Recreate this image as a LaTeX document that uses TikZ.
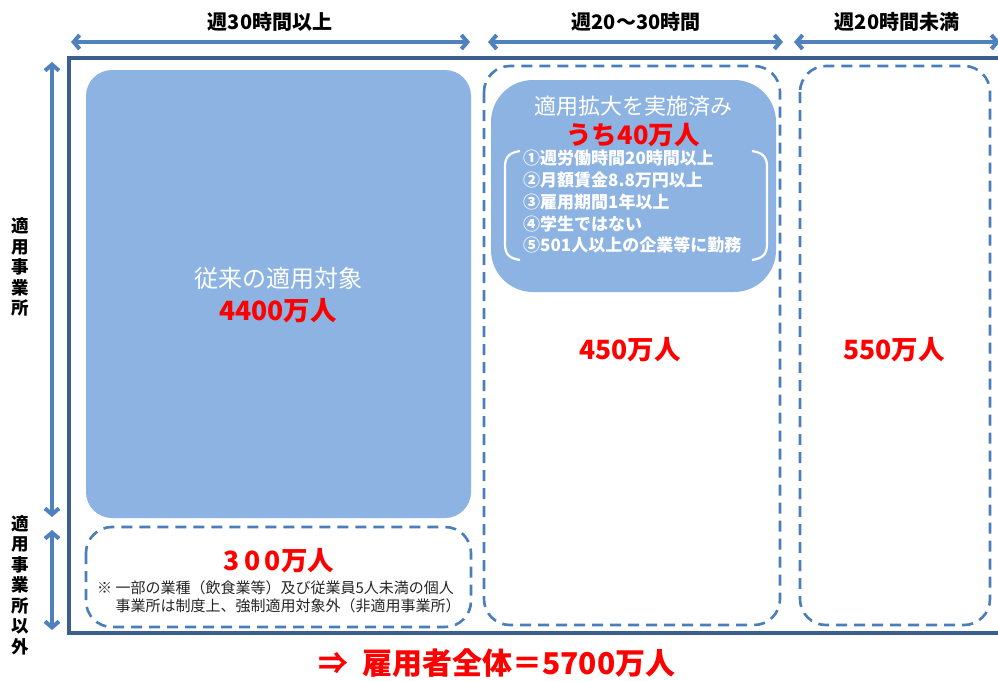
\documentclass[tikz,border=0pt]{standalone}
\usepackage{fontspec}
\setmainfont{Noto Sans CJK JP}
\usetikzlibrary{arrows.meta}
\definecolor{arr}{HTML}{4F81BD}
\definecolor{frm}{HTML}{3B5E8C}
\definecolor{fillb}{HTML}{8DB3E2}
\definecolor{dsh}{HTML}{4A7EBB}
\definecolor{redt}{HTML}{FF0000}
\tikzset{
  dimarrow/.style={arr, line width=4pt, {Straight Barb[length=6pt,width=14pt]}-{Straight Barb[length=6pt,width=14pt]}},
  dbox/.style={dsh, line width=2.6pt, dash pattern=on 11pt off 7pt, rounded corners=26pt},
  hdr/.style={font=\bfseries\fontsize{20}{22}\selectfont, text=black},
  vlab/.style={font=\bfseries\fontsize{17.5}{20.5}\selectfont, text=black, align=center, inner sep=0pt},
  big/.style={font=\bfseries\fontsize{26.5}{30}\selectfont, text=redt},
  wht/.style={font=\fontsize{24}{28}\selectfont, text=white}
}
\begin{document}
\begin{tikzpicture}[x=1pt,y=-1pt]
\useasboundingbox (0,0) rectangle (998,680);
\fill[white] (0,0) rectangle (998,680);
% top headers
\node[hdr] (h1) at (270,22) {週30時間以上};
\node[hdr] (h2) at (636,22) {週20～30時間};
\node[hdr] (h3) at (897,22) {週20時間未満};
\coordinate (a1l) at (71,42); \coordinate (a1r) at (470,42);
\coordinate (a2l) at (488,42); \coordinate (a2r) at (783,42);
\coordinate (a3l) at (794,42); \coordinate (a3r) at (1000,42);
\draw[dimarrow] (a1l) -- (a1r);
\draw[dimarrow] (a2l) -- (a2r);
\draw[dimarrow] (a3l) -- (a3r);
% left arrows
\coordinate (v1t) at (52,62); \coordinate (v1b) at (52,517);
\coordinate (v2t) at (52,530); \coordinate (v2b) at (52,630);
\draw[dimarrow] (v1t) -- (v1b);
\draw[dimarrow] (v2t) -- (v2b);
\node[vlab] (l1) at (20,267) {適\\用\\事\\業\\所};
\node[vlab] (l2) at (20,585) {適\\用\\事\\業\\所\\以\\外};
% frame
\draw[frm, line width=4pt] (1010,58) -- (69,58) -- (69,633) -- (1010,633);
% big box
\fill[fillb, rounded corners=26pt] (86,70) rectangle (471,518);
\node[wht] (t1) at (278,278) {従来の適用対象};
\node[big] (t2) at (278,311) {4400万人};
% bottom dashed box
\draw[dbox] (86,527) rectangle (471,627);
\node[big] (t3) at (279,561) {3\,0\,0万人};
\node[font=\fontsize{15}{18.5}\selectfont, align=left, text=black!85, anchor=north west, inner sep=0pt] (note) at (97,580)
  {※ 一部の業種（飲食業等）及び従業員5人未満の個人\\\hphantom{※ }事業所は制度上、強制適用対象外（非適用事業所）};
% middle dashed box
\draw[dbox] (484,66) rectangle (780,625);
\fill[fillb, rounded corners=42pt] (491,80) rectangle (776,292);
\node[font=\fontsize{22}{26}\selectfont, text=white] (t4) at (633,106) {適用拡大を実施済み};
\node[big, font=\bfseries\fontsize{25.5}{30}\selectfont] (t5) at (633,135) {うち40万人};
\node[font=\bfseries\fontsize{17}{21.75}\selectfont, text=white, align=left, anchor=north west, inner sep=0pt] (lst) at (523,150)
  {①週労働時間20時間以上\\②月額賃金8.8万円以上\\③雇用期間1年以上\\④学生ではない\\⑤501人以上の企業等に勤務};
\coordinate (bl1) at (520,151); \coordinate (bl2) at (520,260);
\coordinate (br1) at (752,151); \coordinate (br2) at (752,260);
\draw[white, line width=2.2pt] (bl1) .. controls (506,153) and (505,160) .. (505,168) -- (505,243) .. controls (505,251) and (506,258) .. (bl2);
\draw[white, line width=2.2pt] (br1) .. controls (766,153) and (767,160) .. (767,168) -- (767,243) .. controls (767,251) and (766,258) .. (br2);
\node[big] (t6) at (630,350) {450万人};
% right dashed box
\draw[dbox] (800,66) rectangle (990,625);
\node[big] (t7) at (894,350) {550万人};
% bottom line
\node[font=\bfseries\fontsize{30}{34}\selectfont, text=redt] (tot) at (497,663) {⇒\ \ 雇用者全体＝5700万人};
\end{tikzpicture}
\end{document}
